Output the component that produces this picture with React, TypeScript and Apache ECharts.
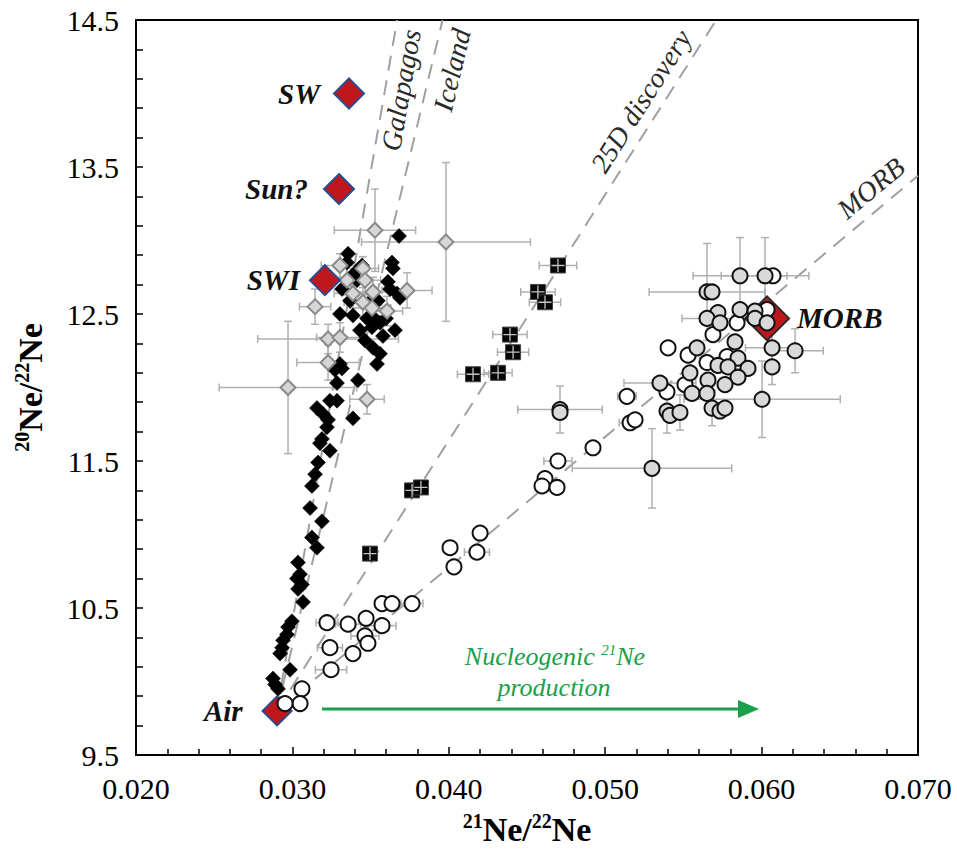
import React, { useEffect, useRef } from 'react';
import * as echarts from 'echarts';

// y axis is drawn in offset units (value - Y0) so that ticks start at 9.5
const Y0 = 9.5;

const X_TICK_DECIMALS = 3;
const Y_TICK_DECIMALS = 1;

// Black diamonds: [21Ne/22Ne, 20Ne/22Ne]
const BLACK_DIAMONDS: number[][] = [
  [0.03682, 13.03], [0.03356, 12.91], [0.03349, 12.85], [0.03445, 12.83], [0.03637, 12.85],
  [0.03643, 12.81], [0.03317, 12.67], [0.034, 12.78], [0.03413, 12.73], [0.03611, 12.72],
  [0.03624, 12.67], [0.03669, 12.64], [0.03688, 12.61], [0.03368, 12.59], [0.03304, 12.5],
  [0.03387, 12.49], [0.03483, 12.57], [0.03547, 12.59], [0.03477, 12.47], [0.03515, 12.48],
  [0.03599, 12.47], [0.0356, 12.44], [0.03509, 12.41], [0.03656, 12.39], [0.03432, 12.39],
  [0.03579, 12.35], [0.03464, 12.32], [0.03515, 12.27], [0.0356, 12.23], [0.03541, 12.16],
  [0.03304, 12.16], [0.03317, 12.13], [0.03272, 12.12], [0.03419, 12.05], [0.03285, 12.03],
  [0.0324, 11.91], [0.03285, 11.91], [0.03157, 11.86], [0.03196, 11.82], [0.03228, 11.78],
  [0.03221, 11.73], [0.03387, 11.79], [0.03189, 11.65], [0.03176, 11.62], [0.0324, 11.57],
  [0.03164, 11.49], [0.03145, 11.41], [0.03125, 11.33], [0.03113, 11.18], [0.03189, 11.09],
  [0.03125, 10.98], [0.03157, 10.91], [0.03036, 10.81], [0.03049, 10.73], [0.03029, 10.7],
  [0.03061, 10.66], [0.03036, 10.63], [0.03068, 10.54], [0.02997, 10.41], [0.02972, 10.37],
  [0.02965, 10.32], [0.0294, 10.28], [0.02934, 10.23], [0.02921, 10.19], [0.02985, 10.08],
  [0.02876, 10.02], [0.02889, 9.98], [0.02908, 9.95],
];

// Gray diamonds: [x, y, xErr, yErr]
const GRAY_DIAMONDS: number[][] = [
  [0.03528, 13.07, 0.0026, 0.28], [0.03982, 12.99, 0.0054, 0.54], [0.03304, 12.83, 0.0012, 0.08],
  [0.03451, 12.81, 0.001, 0.08], [0.03349, 12.73, 0.0012, 0.1], [0.03464, 12.73, 0.001, 0.1],
  [0.03387, 12.64, 0.0012, 0.1], [0.03515, 12.65, 0.0012, 0.1], [0.03733, 12.66, 0.0016, 0.12],
  [0.03145, 12.55, 0.001, 0.12], [0.03451, 12.58, 0.0012, 0.1], [0.03509, 12.54, 0.0012, 0.1],
  [0.03605, 12.52, 0.001, 0.1], [0.03228, 12.33, 0.0045, 0.1], [0.03304, 12.34, 0.0015, 0.1],
  [0.03228, 12.17, 0.002, 0.12], [0.02972, 12.0, 0.0044, 0.45], [0.03477, 11.92, 0.0011, 0.1],
];

// 25D discovery squares: [x, y, xErr]
const SQUARES_25D: number[][] = [
  [0.04698, 12.83, 0.0012], [0.0457, 12.65, 0.0011], [0.04615, 12.58, 0.001],
  [0.04391, 12.36, 0.0011], [0.04411, 12.24, 0.001], [0.04155, 12.09, 0.001],
  [0.04315, 12.1, 0.0009], [0.03765, 11.3, 0], [0.03822, 11.32, 0], [0.03496, 10.87, 0],
];

// White circles: [x, y, xErr]
const WHITE_CIRCLES: number[][] = [
  [0.03221, 10.4, 0.0007], [0.03356, 10.39, 0.0008], [0.03471, 10.43, 0], [0.03573, 10.38, 0.0009],
  [0.03464, 10.31, 0.0009], [0.03483, 10.26, 0], [0.0324, 10.23, 0.0008], [0.03387, 10.19, 0],
  [0.03247, 10.08, 0.001], [0.03573, 10.53, 0], [0.03637, 10.53, 0], [0.03765, 10.53, 0.0007],
  [0.03061, 9.95, 0], [0.03049, 9.85, 0], [0.02953, 9.85, 0], [0.04008, 10.91, 0],
  [0.04033, 10.78, 0], [0.0418, 10.88, 0.0008], [0.042, 11.01, 0], [0.04615, 11.38, 0],
  [0.04596, 11.33, 0], [0.04692, 11.32, 0], [0.04698, 11.5, 0.0009], [0.04922, 11.59, 0],
  [0.05159, 11.76, 0.0007], [0.05191, 11.78, 0], [0.05139, 11.94, 0.0006], [0.05395, 11.97, 0],
  [0.0551, 12.02, 0], [0.05402, 12.27, 0], [0.0553, 12.22, 0], [0.05651, 12.17, 0],
  [0.05779, 12.21, 0], [0.05689, 12.36, 0], [0.05843, 12.44, 0], [0.06035, 12.53, 0],
  [0.06073, 12.76, 0],
];

// Gray circles: [x, y, xErr, yErr]
const GRAY_CIRCLES: number[][] = [
  [0.05862, 12.76, 0.003, 0.26], [0.06022, 12.76, 0.0028, 0.26], [0.05651, 12.65, 0.0037, 0.33],
  [0.05683, 12.65, 0, 0], [0.05721, 12.51, 0, 0], [0.05862, 12.53, 0, 0], [0.05651, 12.47, 0.0016, 0],
  [0.05734, 12.44, 0, 0], [0.05958, 12.52, 0, 0], [0.05958, 12.47, 0, 0], [0.06035, 12.44, 0, 0],
  [0.0583, 12.31, 0, 0], [0.06067, 12.27, 0.0017, 0.12], [0.06214, 12.25, 0.0018, 0.15],
  [0.05587, 12.27, 0, 0], [0.05849, 12.2, 0, 0], [0.05721, 12.15, 0, 0], [0.05785, 12.14, 0, 0],
  [0.05913, 12.13, 0, 0], [0.06067, 12.14, 0, 0.12], [0.05542, 12.1, 0, 0], [0.05657, 12.05, 0, 0],
  [0.05849, 12.07, 0, 0], [0.0535, 12.03, 0.0023, 0.04], [0.05766, 12.02, 0, 0], [0.05555, 11.96, 0, 0],
  [0.05651, 11.96, 0, 0], [0.06003, 11.92, 0.005, 0.26], [0.05683, 11.86, 0, 0.12], [0.05734, 11.84, 0, 0],
  [0.05766, 11.86, 0, 0], [0.05395, 11.84, 0, 0.15], [0.05414, 11.81, 0, 0], [0.05478, 11.83, 0, 0.12],
  [0.04711, 11.85, 0.0027, 0.16], [0.04711, 11.83, 0, 0], [0.05299, 11.45, 0.0051, 0.27],
];

// End-member compositions (red diamonds)
const END_MEMBER_NAMES = ['SW', 'Sun?', 'SWI', 'Air', 'MORB'];
const END_MEMBER_X = [0.03362, 0.03298, 0.03208, 0.02902, 0.06035];
const END_MEMBER_Y = [14.0, 13.35, 12.73, 9.8, 12.47];

// Mixing lines from Air
const LINE_GALAPAGOS = [[0.029, 9.8], [0.0367, 14.5]];
const LINE_ICELAND = [[0.029, 9.8], [0.0396, 14.5]];
const LINE_25D = [[0.029, 9.8], [0.0571, 14.5]];
const LINE_MORB = [[0.029, 9.8], [0.07, 13.44]];

const FONT = '"Liberation Serif", "Times New Roman", serif';
const GREEN = '#19a049';

const off = (d: number[]) => [d[0], d[1] - Y0, d[2] || 0, d[3] || 0];

function errorBars(data: number[][], z: number) {
  return {
    type: 'custom',
    z,
    silent: true,
    clip: true,
    data: data.map(off),
    encode: { x: 0, y: 1 },
    renderItem: (_params: any, api: any) => {
      const x = api.value(0);
      const y = api.value(1);
      const ex = api.value(2);
      const ey = api.value(3);
      const cap = 4;
      const style = { stroke: '#b0b0b0', lineWidth: 1.5, fill: 'none' };
      const children: any[] = [];
      if (ex > 0) {
        const l = api.coord([x - ex, y]);
        const r = api.coord([x + ex, y]);
        children.push({ type: 'line', shape: { x1: l[0], y1: l[1], x2: r[0], y2: r[1] }, style });
        children.push({ type: 'line', shape: { x1: l[0], y1: l[1] - cap, x2: l[0], y2: l[1] + cap }, style });
        children.push({ type: 'line', shape: { x1: r[0], y1: r[1] - cap, x2: r[0], y2: r[1] + cap }, style });
      }
      if (ey > 0) {
        const t = api.coord([x, y + ey]);
        const b = api.coord([x, y - ey]);
        children.push({ type: 'line', shape: { x1: t[0], y1: t[1], x2: b[0], y2: b[1] }, style });
        children.push({ type: 'line', shape: { x1: t[0] - cap, y1: t[1], x2: t[0] + cap, y2: t[1] }, style });
        children.push({ type: 'line', shape: { x1: b[0] - cap, y1: b[1], x2: b[0] + cap, y2: b[1] }, style });
      }
      return { type: 'group', children };
    },
  };
}

function dashed(data: number[][]) {
  return {
    type: 'line',
    data: data.map((d) => [d[0], d[1] - Y0]),
    symbol: 'none',
    silent: true,
    z: 1,
    lineStyle: { color: '#a0a0a0', width: 2, type: [15, 10] },
  };
}

const LABEL_LAYOUT: Record<string, { position: string; distance: number; size: number }> = {
  SW: { position: 'left', distance: 13, size: 30 },
  'Sun?': { position: 'left', distance: 15, size: 30 },
  SWI: { position: 'left', distance: 9, size: 30 },
  Air: { position: 'left', distance: 19, size: 29 },
  MORB: { position: 'right', distance: 7, size: 44 },
};

export default function App() {
  const ref = useRef<HTMLDivElement>(null);

  useEffect(() => {
    if (!ref.current) return;
    const chart = echarts.init(ref.current, undefined, { renderer: 'svg' });

    const endMembers = END_MEMBER_NAMES.map((n, i) => ({
      name: n,
      value: [END_MEMBER_X[i], END_MEMBER_Y[i] - Y0],
      symbolSize: LABEL_LAYOUT[n].size,
      itemStyle:
        n === 'MORB'
          ? { color: '#c0171d', borderColor: '#2a2a2a', borderWidth: 2 }
          : { color: '#c0171d', borderColor: '#2c4a8a', borderWidth: 2 },
      label: {
        show: true,
        position: LABEL_LAYOUT[n].position,
        distance: LABEL_LAYOUT[n].distance,
        formatter: '{b}',
        fontFamily: FONT,
        fontStyle: 'italic',
        fontWeight: 'bold',
        fontSize: 29,
        color: '#111',
      },
    }));

    const lineLabel = (text: string, x: number, y: number, deg: number) => ({
      type: 'text',
      x,
      y,
      rotation: (deg * Math.PI) / 180,
      silent: true,
      z: 10,
      style: {
        text,
        fill: '#2a2a2a',
        font: `italic 28px ${FONT}`,
        align: 'center',
        verticalAlign: 'middle',
      },
    });

    const titleRich = {
      b: { fontFamily: FONT, fontWeight: 'bold', fontSize: 34, color: '#000', lineHeight: 36 },
      s: { fontFamily: FONT, fontWeight: 'bold', fontSize: 20, color: '#000', verticalAlign: 'top', lineHeight: 20 },
    };

    const option: any = {
      animation: false,
      backgroundColor: '#fff',
      grid: {
        left: 136,
        right: 39,
        top: 20,
        bottom: 97,
        show: true,
        borderColor: '#000',
        borderWidth: 2,
        backgroundColor: 'transparent',
      },
      xAxis: {
        type: 'value',
        min: 0.02,
        max: 0.07,
        interval: 0.01,
        axisLine: { show: true, onZero: false, lineStyle: { color: '#000', width: 2 } },
        axisTick: { show: true, inside: true, length: 8, lineStyle: { color: '#000', width: 1.5 } },
        minorTick: { show: true, splitNumber: 5, length: 6, lineStyle: { color: '#000', width: 1.5 } },
        splitLine: { show: false },
        minorSplitLine: { show: false },
        axisLabel: {
          formatter: (v: number) => v.toFixed(X_TICK_DECIMALS),
          fontFamily: FONT,
          fontSize: 30,
          color: '#000',
          margin: 18,
        },
        name: '{s|21}{b|Ne/}{s|22}{b|Ne}',
        nameLocation: 'middle',
        nameGap: 56,
        nameTextStyle: { rich: titleRich },
      },
      yAxis: {
        type: 'value',
        min: 0,
        max: 5,
        interval: 1,
        axisLine: { show: true, onZero: false, lineStyle: { color: '#000', width: 2 } },
        axisTick: { show: true, inside: true, length: 7, lineStyle: { color: '#000', width: 1.5 } },
        minorTick: { show: true, splitNumber: 5, length: 7, lineStyle: { color: '#000', width: 1.5 } },
        splitLine: { show: false },
        minorSplitLine: { show: false },
        axisLabel: {
          formatter: (v: number) => (v + Y0).toFixed(Y_TICK_DECIMALS),
          fontFamily: FONT,
          fontSize: 30,
          color: '#000',
          margin: 17,
        },
        name: '{s|20}{b|Ne/}{s|22}{b|Ne}',
        nameLocation: 'middle',
        nameGap: 88,
        nameTextStyle: { rich: titleRich },
      },
      series: [
        dashed(LINE_GALAPAGOS),
        dashed(LINE_ICELAND),
        dashed(LINE_25D),
        dashed(LINE_MORB),
        errorBars(GRAY_DIAMONDS, 2),
        errorBars(SQUARES_25D, 2),
        errorBars(WHITE_CIRCLES, 2),
        errorBars(GRAY_CIRCLES, 2),
        {
          type: 'scatter',
          z: 3,
          data: BLACK_DIAMONDS.map(off).map((d) => [d[0], d[1]]),
          symbol: 'diamond',
          symbolSize: 15,
          itemStyle: { color: '#000', borderColor: '#000', borderWidth: 0.5, opacity: 1 },
        },
        {
          type: 'scatter',
          z: 4,
          data: GRAY_DIAMONDS.map(off).map((d) => [d[0], d[1]]),
          symbol: 'diamond',
          symbolSize: 15,
          itemStyle: { color: '#d6d6d6', borderColor: '#8a8a8a', borderWidth: 2, opacity: 1 },
        },
        {
          type: 'scatter',
          z: 5,
          data: endMembers,
          symbol: 'diamond',
          itemStyle: { opacity: 1 },
        },
        {
          type: 'scatter',
          z: 6,
          data: WHITE_CIRCLES.map(off).map((d) => [d[0], d[1]]),
          symbol: 'circle',
          symbolSize: 15,
          itemStyle: { color: '#ffffff', borderColor: '#111', borderWidth: 2, opacity: 1 },
        },
        {
          type: 'scatter',
          z: 6,
          data: GRAY_CIRCLES.map(off).map((d) => [d[0], d[1]]),
          symbol: 'circle',
          symbolSize: 15,
          itemStyle: { color: '#d9d9d9', borderColor: '#111', borderWidth: 2, opacity: 1 },
        },
        {
          type: 'scatter',
          z: 7,
          data: SQUARES_25D.map(off).map((d) => [d[0], d[1]]),
          symbol: 'rect',
          symbolSize: 15,
          itemStyle: { color: '#050505', borderColor: '#444', borderWidth: 1, opacity: 1 },
        },
        {
          type: 'scatter',
          z: 8,
          silent: true,
          data: SQUARES_25D.map(off).map((d) => [d[0], d[1]]),
          symbol: 'path://M9,0h2v9h9v2h-9v9h-2v-9h-9v-2h9z',
          symbolSize: 13,
          itemStyle: { color: '#c4c4c4', opacity: 1 },
        },
      ],
      graphic: [
        lineLabel('Galapagos', 401, 90, 80),
        lineLabel('Iceland', 452, 70, 76.5),
        lineLabel('25D discovery', 641, 101, 57.6),
        lineLabel('MORB', 871, 188, 39.7),
        {
          type: 'line',
          silent: true,
          z: 10,
          shape: { x1: 322, y1: 709, x2: 742, y2: 709 },
          style: { stroke: GREEN, lineWidth: 3 },
        },
        {
          type: 'polygon',
          silent: true,
          z: 10,
          shape: { points: [[759, 709], [738, 700], [738, 718]] },
          style: { fill: GREEN },
        },
        {
          type: 'text',
          silent: true,
          z: 10,
          x: 555,
          y: 656,
          style: {
            text: '{i|Nucleogenic }{s|21}{i|Ne}',
            align: 'center',
            verticalAlign: 'middle',
            rich: {
              i: { fontFamily: FONT, fontStyle: 'italic', fontSize: 26, fill: GREEN, lineHeight: 28 },
              s: { fontFamily: FONT, fontStyle: 'italic', fontSize: 15, fill: GREEN, verticalAlign: 'top', lineHeight: 15 },
            },
          },
        },
        {
          type: 'text',
          silent: true,
          z: 10,
          x: 554,
          y: 687,
          style: {
            text: 'production',
            fill: GREEN,
            font: `italic 26px ${FONT}`,
            align: 'center',
            verticalAlign: 'middle',
          },
        },
      ],
    };

    chart.setOption(option);
    return () => chart.dispose();
  }, []);

  return (
    <div
      ref={ref}
      style={{ position: 'fixed', left: 0, top: 0, width: 957, height: 852, background: '#fff' }}
    />
  );
}
